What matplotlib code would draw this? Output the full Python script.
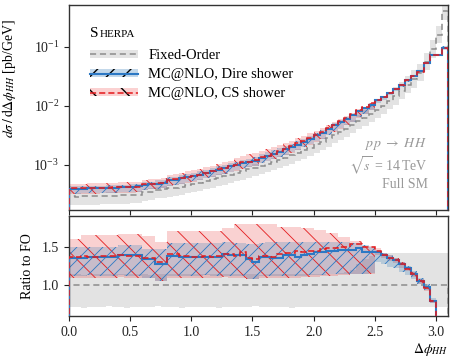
import numpy as np
import matplotlib
matplotlib.use('Agg')
import matplotlib.pyplot as plt
from matplotlib.patches import Patch
from matplotlib.lines import Line2D
from matplotlib.ticker import NullLocator

plt.rcParams['font.family'] = 'serif'
plt.rcParams['font.serif'] = ['Liberation Serif', 'DejaVu Serif']
plt.rcParams['mathtext.fontset'] = 'stix'
plt.rcParams['font.size'] = 10

# bins in delta phi_HH, width 0.05
edges = np.round(np.arange(0, 3.1001, 0.05), 2)

# fixed order cross section [pb/GeV]
fo = np.array([
    2.90e-4, 2.88e-4, 2.90e-4, 2.92e-4, 2.92e-4, 2.95e-4, 2.96e-4, 2.98e-4, 3.00e-4, 3.02e-4,
    3.05e-4, 3.08e-4, 3.40e-4, 3.50e-4, 3.70e-4, 3.80e-4, 3.95e-4, 4.05e-4, 4.25e-4, 4.50e-4,
    4.70e-4, 4.95e-4, 5.30e-4, 5.60e-4, 6.00e-4, 6.30e-4, 6.70e-4, 7.20e-4, 7.70e-4, 8.30e-4,
    8.90e-4, 9.60e-4, 1.03e-3, 1.12e-3, 1.21e-3, 1.32e-3, 1.45e-3, 1.60e-3, 1.76e-3, 1.95e-3,
    2.20e-3, 2.45e-3, 2.80e-3, 3.20e-3, 3.60e-3, 4.10e-3, 4.70e-3, 5.50e-3, 6.30e-3, 7.30e-3,
    8.60e-3, 1.00e-2, 1.20e-2, 1.45e-2, 1.80e-2, 2.25e-2, 2.80e-2, 3.60e-2, 5.50e-2, 9.00e-2,
    1.60e-1, 4.00e-1])
fo_lo = np.array([
    0.72, 0.72, 0.71, 0.72, 0.72, 0.72, 0.73, 0.72, 0.72, 0.71,
    0.72, 0.72, 0.72, 0.72, 0.73, 0.72, 0.72, 0.72, 0.71, 0.72,
    0.72, 0.72, 0.72, 0.72, 0.71, 0.72, 0.72, 0.72, 0.72, 0.72,
    0.73, 0.72, 0.72, 0.72, 0.72, 0.72, 0.71, 0.72, 0.72, 0.72,
    0.72, 0.72, 0.72, 0.72, 0.72, 0.72, 0.72, 0.72, 0.72, 0.72,
    0.72, 0.72, 0.72, 0.72, 0.72, 0.72, 0.72, 0.72, 0.72, 0.72,
    0.72, 0.72])
fo_hi = np.array([
    1.14, 1.14, 1.13, 1.14, 1.14, 1.14, 1.15, 1.14, 1.14, 1.14,
    1.14, 1.14, 1.14, 1.13, 1.14, 1.14, 1.15, 1.14, 1.14, 1.14,
    1.14, 1.14, 1.14, 1.15, 1.14, 1.14, 1.14, 1.14, 1.14, 1.14,
    1.14, 1.13, 1.14, 1.14, 1.14, 1.14, 1.14, 1.15, 1.14, 1.14,
    1.14, 1.14, 1.15, 1.15, 1.16, 1.17, 1.20, 1.28, 1.34, 1.38,
    1.42, 1.42, 1.42, 1.42, 1.42, 1.42, 1.42, 1.42, 1.42, 1.42,
    1.42, 1.42])

# MC@NLO with Dire shower, ratio to fixed order
dire = np.array([
    1.35, 1.35, 1.35, 1.37, 1.37, 1.37, 1.37, 1.37, 1.39, 1.39,
    1.39, 1.39, 1.34, 1.34, 1.28, 1.28, 1.38, 1.38, 1.37, 1.37,
    1.37, 1.37, 1.37, 1.37, 1.37, 1.41, 1.39, 1.39, 1.39, 1.34,
    1.30, 1.37, 1.37, 1.35, 1.35, 1.39, 1.39, 1.37, 1.39, 1.40,
    1.43, 1.43, 1.44, 1.45, 1.46, 1.46, 1.46, 1.48, 1.43, 1.43,
    1.43, 1.39, 1.36, 1.33, 1.27, 1.22, 1.15, 1.06, 0.98, 0.80,
    0.45, 0.24])
dire_lo = np.array([
    1.12, 1.12, 1.12, 1.13, 1.12, 1.12, 1.12, 1.12, 1.13, 1.12,
    1.12, 1.12, 1.10, 1.10, 1.06, 1.06, 1.12, 1.12, 1.12, 1.12,
    1.12, 1.12, 1.13, 1.12, 1.12, 1.12, 1.12, 1.12, 1.12, 1.08,
    1.08, 1.12, 1.12, 1.12, 1.12, 1.12, 1.12, 1.12, 1.12, 1.13,
    1.13, 1.13, 1.14, 1.14, 1.14, 1.14, 1.14, 1.15, 1.15, 1.16,
    1.30, 1.27, 1.24, 1.22, 1.17, 1.13, 1.08, 1.01, 0.94, 0.77,
    0.43, 0.22])
dire_hi = np.array([
    1.50, 1.50, 1.50, 1.50, 1.50, 1.50, 1.50, 1.50, 1.52, 1.52,
    1.52, 1.52, 1.47, 1.47, 1.47, 1.47, 1.55, 1.55, 1.55, 1.55,
    1.55, 1.55, 1.55, 1.55, 1.55, 1.56, 1.56, 1.55, 1.55, 1.53,
    1.53, 1.55, 1.56, 1.56, 1.56, 1.56, 1.56, 1.56, 1.56, 1.56,
    1.56, 1.56, 1.56, 1.56, 1.56, 1.56, 1.55, 1.55, 1.52, 1.50,
    1.46, 1.42, 1.39, 1.36, 1.30, 1.25, 1.18, 1.09, 1.01, 0.83,
    0.47, 0.26])

# MC@NLO with CS shower, ratio to fixed order
cs = np.array([
    1.37, 1.37, 1.38, 1.37, 1.37, 1.38, 1.38, 1.38, 1.39, 1.38,
    1.38, 1.38, 1.36, 1.36, 1.30, 1.30, 1.41, 1.41, 1.38, 1.38,
    1.37, 1.37, 1.38, 1.37, 1.38, 1.40, 1.40, 1.38, 1.43, 1.36,
    1.34, 1.38, 1.38, 1.37, 1.40, 1.42, 1.42, 1.44, 1.43, 1.44,
    1.44, 1.47, 1.48, 1.49, 1.50, 1.50, 1.53, 1.53, 1.50, 1.50,
    1.44, 1.39, 1.36, 1.33, 1.27, 1.21, 1.14, 1.05, 0.96, 0.79,
    0.45, 0.24])
cs_lo = np.array([
    1.10, 1.10, 1.10, 1.10, 1.10, 1.10, 1.10, 1.10, 1.11, 1.10,
    1.10, 1.10, 1.10, 1.10, 1.06, 1.06, 1.10, 1.10, 1.10, 1.10,
    1.10, 1.10, 1.10, 1.10, 1.10, 1.11, 1.10, 1.10, 1.10, 1.08,
    1.08, 1.10, 1.10, 1.10, 1.10, 1.10, 1.10, 1.10, 1.11, 1.11,
    1.11, 1.12, 1.12, 1.12, 1.13, 1.13, 1.14, 1.14, 1.15, 1.15,
    1.39, 1.35, 1.32, 1.29, 1.23, 1.18, 1.11, 1.02, 0.93, 0.77,
    0.44, 0.23])
cs_hi = np.array([
    1.60, 1.60, 1.65, 1.65, 1.65, 1.65, 1.65, 1.65, 1.67, 1.67,
    1.67, 1.67, 1.64, 1.64, 1.56, 1.56, 1.70, 1.70, 1.70, 1.70,
    1.70, 1.70, 1.70, 1.70, 1.70, 1.75, 1.75, 1.80, 1.80, 1.80,
    1.80, 1.80, 1.80, 1.80, 1.76, 1.76, 1.76, 1.76, 1.74, 1.74,
    1.72, 1.72, 1.68, 1.68, 1.63, 1.63, 1.57, 1.57, 1.51, 1.51,
    1.48, 1.42, 1.39, 1.36, 1.30, 1.24, 1.17, 1.08, 0.99, 0.81,
    0.46, 0.25])

c_grey = '#e3e3e3'
c_fo = '#8c8c8c'
c_blue = '#2c78c4'
c_red = '#e41a1c'

W, H = 451, 359
fig = plt.figure(figsize=(W / 100, H / 100), dpi=100)
ax = fig.add_axes([69 / W, 1 - 210 / H, 379 / W, 205 / H])
rax = fig.add_axes([69 / W, 1 - 316 / H, 379 / W, 100 / H])


def add_hatch(a, patch, color, step, rising):
    bb = a.get_window_extent()
    w, h = bb.width, bb.height
    for c in np.arange(-h, w + step, step):
        xs = np.array([c, c + h]) / w
        ys = np.array([0, 1]) if rising else np.array([1, 0])
        ln, = a.plot(xs, ys, transform=a.transAxes, color=color, lw=0.6, zorder=2.5)
        ln.set_clip_path(patch)


def draw_panel(a, scale):
    a.stairs(scale * fo_hi, edges, baseline=scale * fo_lo, fill=True, color=c_grey, lw=0, zorder=1)
    p_cs = a.stairs(scale * cs_hi, edges, baseline=scale * cs_lo, fill=True,
                    color=c_red, alpha=0.2, lw=0, zorder=1.5)
    p_dire = a.stairs(scale * dire_hi, edges, baseline=scale * dire_lo, fill=True,
                      color='#377eb8', alpha=0.25, lw=0, zorder=1.6)
    add_hatch(a, p_cs, c_red, 21.5, False)
    add_hatch(a, p_dire, c_blue, 13, True)
    a.stairs(scale * np.ones_like(fo), edges, color=c_fo, ls=(0, (4, 2.5)), lw=1.1, zorder=3)
    a.stairs(scale * dire, edges, color=c_blue, lw=1.5, zorder=3.5)
    a.stairs(scale * cs, edges, color=c_red, ls=(0, (4, 2)), lw=1.1, zorder=3.6)


draw_panel(ax, fo)
draw_panel(rax, np.ones_like(fo))

for a in (ax, rax):
    a.set_xlim(0, 3.1)
    a.tick_params(direction='out', length=3.5, width=0.8, top=False, right=False, colors='#222222')
    for s in a.spines.values():
        s.set_color('#333333')
        s.set_linewidth(1.0)

ax.set_yscale('log')
ax.set_ylim(1.7e-4, 0.51)
ax.set_yticks([1e-3, 1e-2, 1e-1])
ax.yaxis.set_minor_locator(NullLocator())
ax.set_xticks([0, 0.5, 1.0, 1.5, 2.0, 2.5, 3.0])
ax.tick_params(labelbottom=False)
ax.set_ylabel(r'$d\sigma\,/\,\mathrm{d}\Delta\phi_{HH}$ [pb/GeV]')
ax.yaxis.set_label_coords(-0.135, 0.64)

rax.set_ylim(0.6, 1.9)
rax.set_yticks([1.0, 1.5])
rax.set_yticklabels(['1.0', '1.5'])
rax.set_xticks([0, 0.5, 1.0, 1.5, 2.0, 2.5, 3.0])
rax.set_xticklabels(['0.0', '0.5', '1.0', '1.5', '2.0', '2.5', '3.0'])
rax.tick_params(axis='x', top=False)
rax.set_ylabel('Ratio to FO')
rax.yaxis.set_label_coords(-0.092, 0.5)
rax.set_xlabel(r'$\Delta\phi_{HH}$', loc='right')
rax.xaxis.set_label_coords(1.0, -0.25)

txt_c = '#999999'
ax.text(0.947, 0.322, r'$p\,p\;\rightarrow\;H\,H$', transform=ax.transAxes, ha='right', va='center', color=txt_c)
ax.text(0.947, 0.215, r'$\sqrt{s}$ = 14$\,$TeV', transform=ax.transAxes, ha='right', va='center', color=txt_c)
ax.text(0.947, 0.122, 'Full SM', transform=ax.transAxes, ha='right', va='center', color=txt_c)

handles = [
    (Patch(facecolor=c_grey, lw=0), Line2D([], [], color=c_fo, ls=(0, (4, 2.5)), lw=1.1)),
    (Patch(facecolor='#c3d8ea', edgecolor='k', hatch='//', lw=0), Line2D([], [], color=c_blue, lw=1.5)),
    (Patch(facecolor='#fbd1d1', edgecolor='k', hatch='\\', lw=0), Line2D([], [], color=c_red, ls=(0, (4, 2)), lw=1.1)),
]
labels = ['Fixed-Order', 'MC@NLO, Dire shower', 'MC@NLO, CS shower']
ax.legend(handles, labels, loc='upper left', bbox_to_anchor=(0.055, 0.785), frameon=False,
          handlelength=3.3, handleheight=0.5, handletextpad=0.7, labelspacing=0.42, borderpad=0,
          borderaxespad=0, fontsize=10.5)

# Sherpa title in small caps
fig.canvas.draw()
t1 = fig.text(90 / W, 1 - 37 / H, 'S', fontsize=11, va='baseline')
bb = t1.get_window_extent(fig.canvas.get_renderer())
fig.text(bb.x1 / W + 0.002, 1 - 37 / H, 'HERPA', fontsize=8, va='baseline')

fig.savefig('out.png', dpi=100)
